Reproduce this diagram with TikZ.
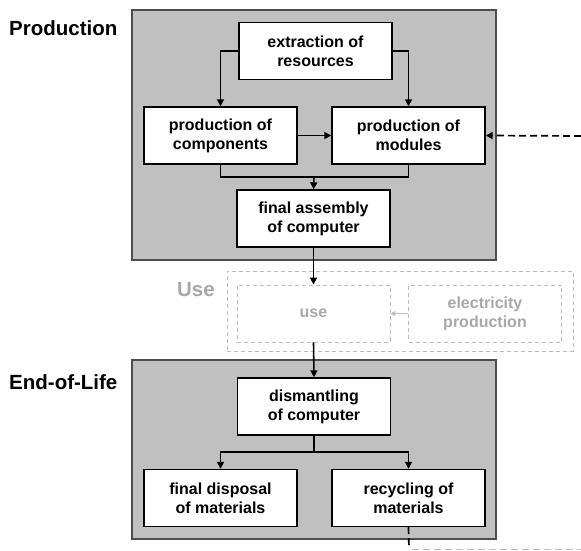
\documentclass[tikz,border=0pt]{standalone}
\usepackage{fontspec}
\setmainfont{Liberation Sans}
\usetikzlibrary{arrows.meta}
\definecolor{phasefill}{HTML}{C0C0C0}
\definecolor{phaseline}{HTML}{4D4D4D}
\definecolor{ghost}{HTML}{BDBDBD}
\definecolor{ghosttext}{HTML}{A8A8A8}
\begin{document}
\begin{tikzpicture}[x=1pt,y=-1pt,
  phase/.style={draw=phaseline,line width=1.4pt,fill=phasefill,inner sep=0pt},
  stepbox/.style={draw=black,line width=1.4pt,fill=white,minimum width=153pt,minimum height=57pt,
    inner sep=0pt,align=center,font=\fontsize{16}{19}\selectfont\bfseries},
  ghostbox/.style={draw=ghost,dashed,dash pattern=on 4pt off 3pt,line width=0.9pt,fill=white,
    minimum width=153pt,minimum height=57pt,inner sep=0pt,align=center,text=ghosttext,
    font=\fontsize{16}{19}\selectfont\bfseries},
  phaselabel/.style={anchor=west,font=\fontsize{20.5}{24}\selectfont\bfseries,inner sep=0pt},
  arr/.style={line width=1.6pt,-{Triangle[length=7pt,width=7pt]}},
  link/.style={line width=1.6pt},
  feed/.style={line width=1.7pt,dash pattern=on 7pt off 4pt}
]
\useasboundingbox (0,0) rectangle (581,550);

% phase frames
\node[phase,minimum width=364pt,minimum height=250pt] (prod) at (314,135) {};
\node[phase,minimum width=364pt,minimum height=179pt] (eol) at (314,449.5) {};
\node[draw=ghost,dash pattern=on 4pt off 3pt,line width=0.9pt,minimum width=346pt,minimum height=80pt,inner sep=0pt] (usephase) at (400,311) {};

% phase titles
\node[phaselabel] (tprod) at (9,28) {Production};
\node[phaselabel] (teol) at (9,382) {End-of-Life};
\node[phaselabel,anchor=east,text=ghosttext] (tuse) at (215,290) {Use};

% production steps
\node[stepbox] (ext) at (315.5,51) {extraction of\\resources};
\node[stepbox] (comp) at (220.5,135.5) {production of\\components};
\node[stepbox] (mod) at (408.5,135.5) {production of\\modules};
\node[stepbox] (fa) at (313.5,218.5) {final assembly\\of computer};

% use steps
\node[ghostbox] (use) at (313.5,313.5) {use};
\node[ghostbox] (elec) at (485,313.5) {electricity\\production};

% end-of-life steps
\node[stepbox] (dism) at (314,406.5) {dismantling\\of computer};
\node[stepbox] (disp) at (220.5,498) {final disposal\\of materials};
\node[stepbox] (rec) at (408.5,498) {recycling of\\materials};

% junctions and free ends
\coordinate (j1) at (314,177);
\coordinate (j2) at (314,452);
\coordinate (fin) at (581,136);
\coordinate (rdown) at (409,549);
\coordinate (rout) at (581,549);

% production flows
\draw[arr] (ext.west) -| (comp.north);
\draw[arr] (ext.east) -| (mod.north);
\draw[arr] (comp.east) -- (mod.west);
\draw[link] (comp.south) |- (j1) -| (mod.south);
\draw[arr] (j1) -- (fa.north);
\draw[arr] (fin) [feed] -- (mod.east);

% use phase flows
\draw[arr] (fa.south) -- (use.north);
\draw[line width=0.9pt,draw=ghost,-{Triangle[length=5pt,width=5pt]}] (elec.west) -- (use.east);
\draw[arr] (use.south) -- (dism.north);

% end-of-life flows
\draw[link] (dism.south) -- (j2);
\draw[arr] (j2) -| (disp.north);
\draw[arr] (j2) -| (rec.north);
\draw[feed] (rec.south) -- (rdown);
\draw[draw=ghost,line width=1pt,dash pattern=on 7pt off 4pt] (rdown) ++(3,0) -- (rout);
\end{tikzpicture}
\end{document}
